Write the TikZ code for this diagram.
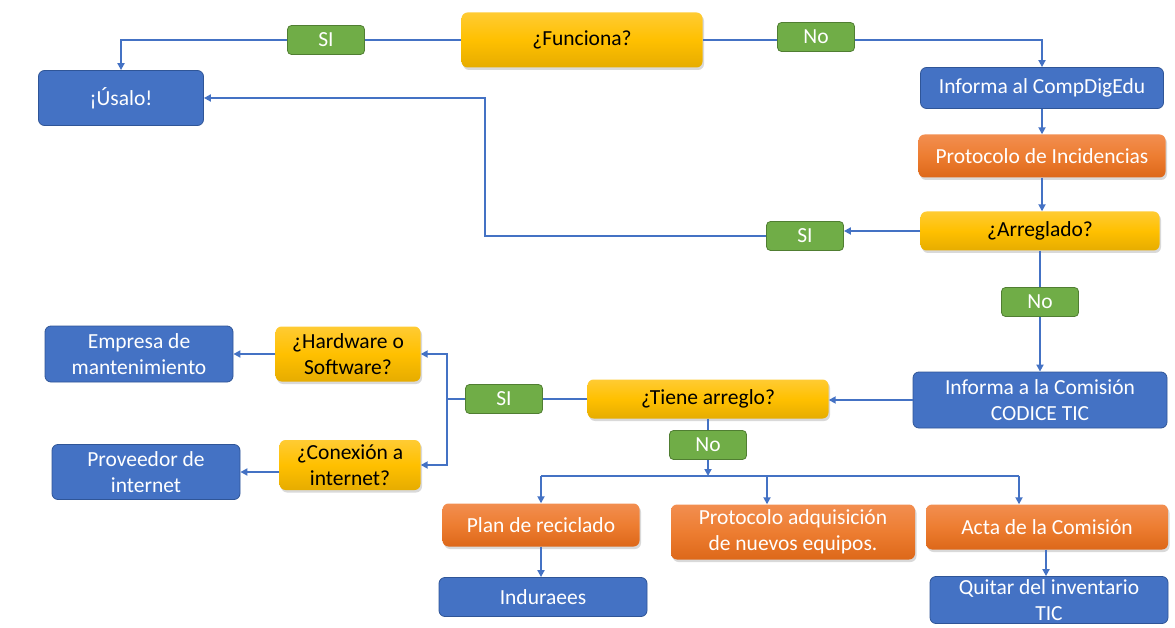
\documentclass[tikz,border=0pt]{standalone}
\usepackage{fontspec}
\setmainfont{Carlito}
\usetikzlibrary{arrows.meta,shadows,calc}
\definecolor{oblue}{HTML}{4472C4}
\definecolor{obluedk}{HTML}{2F5597}
\definecolor{ogreen}{HTML}{70AD47}
\definecolor{ogreendk}{HTML}{507E32}
\definecolor{yelT}{HTML}{FFCB33}
\definecolor{yelM}{HTML}{FFC000}
\definecolor{yelB}{HTML}{E6AC00}
\definecolor{orT}{HTML}{F28E50}
\definecolor{orM}{HTML}{ED7D31}
\definecolor{orB}{HTML}{DD6819}
\definecolor{lineblue}{HTML}{4472C4}
\tikzset{
  box/.style={rounded corners=6pt, inner sep=2pt, align=center,
    font=\fontsize{21.5}{26}\selectfont},
  bluebox/.style={box, fill=oblue, draw=obluedk, line width=0.8pt, text=white},
  yelbox/.style={box, top color=yelT, bottom color=yelB, middle color=yelM, draw=none, text=black,
    drop shadow={opacity=0.3, shadow xshift=1.5pt, shadow yshift=-2.5pt}},
  orbox/.style={box, top color=orT, bottom color=orB, middle color=orM, draw=none, text=white,
    drop shadow={opacity=0.3, shadow xshift=1.5pt, shadow yshift=-2.5pt}},
  grbox/.style={box, rounded corners=4pt, fill=ogreen, draw=ogreendk, line width=0.8pt, text=white,
    minimum width=77pt, minimum height=29pt},
  conn/.style={draw=lineblue, line width=2.1pt},
  arr/.style={conn, -{Triangle[length=7pt,width=7pt]}},
}
\begin{document}
\begin{tikzpicture}[x=1pt,y=-1pt]
\useasboundingbox (0,0) rectangle (1175,628);
% nodes
\node[yelbox, minimum width=241pt, minimum height=55pt] (fun) at (582,40) {¿Funciona?};
\node[grbox] (si1) at (326,40) {SI};
\node[grbox] (no1) at (816,37) {No};
\node[bluebox, minimum width=165pt, minimum height=55pt] (usalo) at (121,98) {¡Úsalo!};
\node[bluebox, minimum width=243pt, minimum height=41pt] (inf1) at (1042,88) {Informa al CompDigEdu};
\node[orbox, minimum width=247pt, minimum height=43pt] (prot) at (1042,156) {Protocolo de Incidencias};
\node[yelbox, minimum width=239pt, minimum height=39pt] (arr) at (1040,231) {¿Arreglado?};
\node[grbox] (si2) at (805,236) {SI};
\node[grbox] (no2) at (1040,302) {No};
\node[bluebox, minimum width=254pt, minimum height=56pt] (com) at (1040,400) {Informa a la Comisión\\CODICE TIC};
\node[yelbox, minimum width=241pt, minimum height=39pt] (tiene) at (708,399) {¿Tiene arreglo?};
\node[grbox] (si3) at (504,399) {SI};
\node[grbox] (no3) at (708,445) {No};
\node[yelbox, minimum width=145pt, minimum height=55pt] (hw) at (348,354) {¿Hardware o\\Software?};
\node[yelbox, minimum width=141pt, minimum height=50pt] (con) at (350,465) {¿Conexión a\\internet?};
\node[bluebox, minimum width=188pt, minimum height=56pt] (emp) at (139,354) {Empresa de\\mantenimiento};
\node[bluebox, minimum width=188pt, minimum height=55pt] (prov) at (146,472) {Proveedor de\\internet};
\node[orbox, minimum width=197pt, minimum height=43pt] (plan) at (541,525) {Plan de reciclado};
\node[orbox, minimum width=244pt, minimum height=55pt] (adq) at (793,532) {Protocolo adquisición\\de nuevos equipos.};
\node[orbox, minimum width=242pt, minimum height=45pt] (acta) at (1047,527) {Acta de la Comisión};
\node[bluebox, minimum width=208pt, minimum height=39pt] (ind) at (543,597) {Induraees};
\node[bluebox, minimum width=238pt, minimum height=47pt] (quit) at (1049,600) {Quitar del inventario\\TIC};
% coordinates
\coordinate (c1) at (485,98);
\coordinate (c2) at (447,399);
\coordinate (jn) at (708,476);
\coordinate (bl) at (541,476);
\coordinate (bm) at (767,476);
\coordinate (br) at (1019,476);
% connectors
\draw[conn] (fun.west) -- (si1.east);
\draw[arr] (si1.west) -| (usalo.north);
\draw[conn] (fun.east) -- (fun.east -| no1.west);
\draw[arr] (no1.east |- fun.east) -| (inf1.north);
\draw[arr] (inf1.south) -- (prot.north);
\draw[arr] (prot.south) -- (prot.south |- arr.north);
\draw[arr] (arr.west) -- (arr.west -| si2.east);
\draw[arr] (si2.west) -| (c1) -- (usalo.east);
\draw[conn] (arr.south) -- (no2.north);
\draw[arr] (no2.south) -- (com.north);
\draw[arr] (com.west) -- (com.west -| tiene.east);
\draw[conn] (tiene.west) -- (si3.east);
\draw[conn] (si3.west) -- (c2);
\draw[arr] (c2) |- (hw.east);
\draw[arr] (c2) |- (con.east);
\draw[arr] (hw.west) -- (emp.east);
\draw[arr] (con.west |- prov.east) -- (prov.east);
\draw[conn] (tiene.south) -- (no3.north);
\draw[arr] (no3.south) -- (jn);
\draw[conn] (bl) -- (br);
\draw[arr] (bl) -- (plan.north);
\draw[arr] (bm) -- (bm |- adq.north);
\draw[arr] (br) -- (br |- acta.north);
\draw[arr] (plan.south) -- (plan.south |- ind.north);
\draw[arr] (acta.south -| quit.north) ++(-3,0) coordinate (aq) -- (aq |- quit.north);
\end{tikzpicture}
\end{document}
